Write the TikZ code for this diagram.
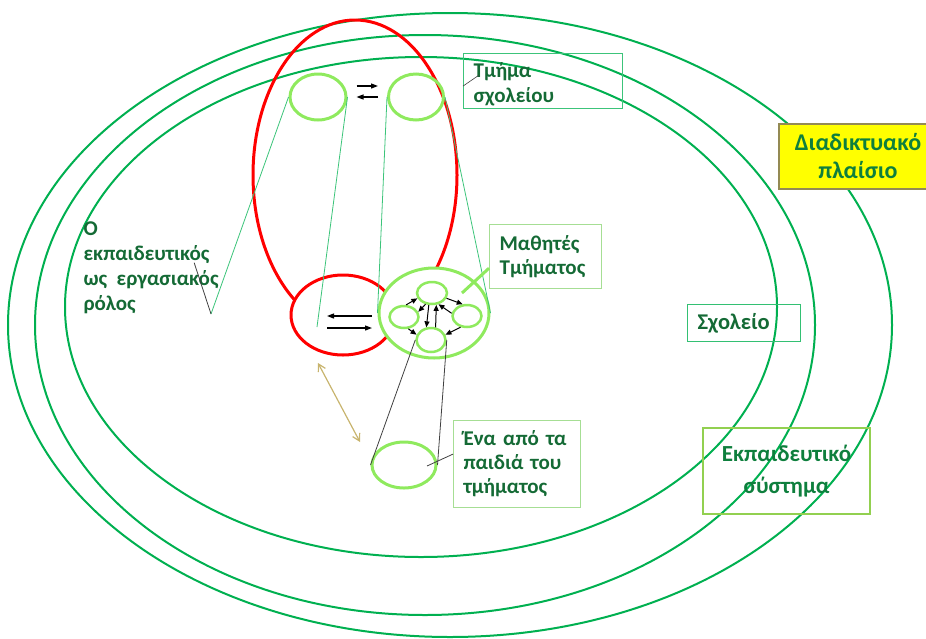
\documentclass[tikz,border=0pt]{standalone}
\usepackage{fontspec}
\setmainfont{Carlito}
\usetikzlibrary{arrows.meta, shapes.geometric}
\definecolor{ringGreen}{HTML}{00B050}
\definecolor{lightGreen}{HTML}{8FEA5E}
\definecolor{thinGreen}{HTML}{3CC47A}
\definecolor{paleGreen}{HTML}{A6DE94}
\definecolor{boxGreen}{HTML}{92D050}
\definecolor{textGreen}{HTML}{146A35}
\definecolor{roleRed}{HTML}{FF0000}
\definecolor{boxYellow}{HTML}{FFFF00}
\definecolor{boxOlive}{HTML}{948A54}
\definecolor{linkTan}{HTML}{C8B46E}
\definecolor{wireGrey}{HTML}{404040}

\begin{document}
\begin{tikzpicture}[x=1pt, y=-1pt,
    ring/.style={draw=ringGreen, line width=2pt},
    unit/.style={ellipse, draw=lightGreen, line width=3pt, inner sep=0pt},
    pupil/.style={ellipse, draw=lightGreen, line width=2.5pt, inner sep=0pt, minimum width=29pt, minimum height=22pt},
    lbox/.style={rectangle, anchor=north west, text=textGreen, align=left, inner xsep=10pt, line width=1.2pt,
      font=\bfseries\fontsize{21}{25}\selectfont},
    flow/.style={-{Triangle[length=7pt, width=5pt]}, line width=1.2pt},
    inflow/.style={-{Triangle[length=6pt, width=5pt]}, line width=1pt},
    zoomline/.style={thinGreen, line width=0.8pt}]
    \useasboundingbox (0,0) rectangle (926,638);
    % contexts
    \draw[ring] (450,325) ellipse [x radius=442, y radius=312];
    \draw[ring] (425,325) ellipse [x radius=390, y radius=290];
    \draw[ring] (421,307) ellipse [x radius=356, y radius=250];
    % role
    \draw[roleRed, line width=3pt] (355,175) ellipse [x radius=102, y radius=155];
    \node[ellipse, draw=roleRed, line width=3pt, fill=white, minimum width=104pt, minimum height=80pt] (role) at (343,315) {};
    % class and pupils
    \node[unit, fill=white, minimum width=110pt, minimum height=90pt] (class) at (434,313) {};
    \node[pupil, minimum width=30pt] (s1) at (432,293) {};
    \node[pupil] (s2) at (404,317) {};
    \node[pupil] (s3) at (467,316) {};
    \node[pupil, minimum height=24pt] (s4) at (431,340) {};
    \node[unit, minimum width=56pt, minimum height=46pt] (dA) at (318,97) {};
    \node[unit, minimum width=55pt, minimum height=46pt] (dB) at (416,97) {};
    \node[unit, minimum width=64pt, minimum height=46pt] (kid) at (404,465) {};
    \coordinate (teach) at (211,314);
    \coordinate (roleIn) at (317,327);

    \draw[zoomline] (dA.west) -- (teach);
    \draw[zoomline] (dA.east) -- (roleIn);
    \draw[zoomline] (dB.west) -- (class.west);
    \draw[zoomline] (dB.east) -- (class.east);

    \draw[flow] ([shift={(9,-11)}]dA.east) -- ([shift={(-9,-11)}]dB.west);
    \draw[flow] ([shift={(-9,0)}]dB.west) -- ([shift={(9,0)}]dA.east);
    \draw[flow] ([shift={(29,1)}]role.center) -- ([shift={(-16,1)}]role.center);
    \draw[flow] ([shift={(-16,13)}]role.center) -- ([shift={(29,13)}]role.center);

    \draw[inflow] (s2.80) -- (s1.200);
    \draw[inflow] (s1.-20) -- (s3.110);
    \draw[inflow] (s3.170) -- (s1.-60);
    \draw[inflow] (s4.70) -- (s1.-70);
    \draw[inflow] (s1.-120) -- (s2.20);
    \draw[inflow] (s1.-105) -- (s4.110);
    \draw[inflow] (s2.-70) -- (s4.160);
    \draw[inflow] (s3.-120) -- (s4.20);

    \draw[wireGrey, line width=0.8pt] (s4.west) -- (kid.west);
    \draw[wireGrey, line width=0.8pt] (s4.east) -- (kid.east);
    \draw[{Straight Barb[length=7pt, width=8pt]}-{Straight Barb[length=7pt, width=8pt]}, linkTan, line width=1.2pt]
      ([shift={(-25,48)}]role.center) -- ([shift={(-44,-23)}]kid.center);

    % labels
    \node[lbox, inner sep=0pt] (teacher) at (83,221) {Ο\\εκπαιδευτικός\\ως~~εργασιακός\\ρόλος};
    \node[lbox, draw=thinGreen, text width=139pt, minimum height=55pt, text height=15pt, text depth=22pt] (sect) at (463,53) {Τμήμα\\σχολείου};
    \node[lbox, draw=paleGreen, text width=92pt, minimum height=64pt, font=\bfseries\fontsize{21}{24}\selectfont] (pupils) at (489,224) {Μαθητές\\Τμήματος};
    \node[lbox, draw=ringGreen!80, text width=93pt, minimum height=37pt, font=\bfseries\fontsize{22.5}{25}\selectfont] (school) at (687,304) {Σχολείο};
    \node[lbox, draw=boxGreen, line width=2pt, align=center, text width=147pt, minimum height=86pt,
      text=textGreen!70!ringGreen, font=\bfseries\fontsize{23}{32}\selectfont] (system) at (702,427) {Εκπαιδευτικό\\σύστημα};
    \node[lbox, draw=boxOlive, fill=boxYellow, line width=2pt, align=center, text width=138pt, minimum height=65pt,
      text=textGreen!70!ringGreen, font=\bfseries\fontsize{24}{28}\selectfont] (net) at (778,123) {Διαδικτυακό\\πλαίσιο};
    \node[lbox, draw=paleGreen, text width=107pt, minimum height=87pt, font=\bfseries\fontsize{21}{24}\selectfont] (kidbox) at (453,420) {Ένα από τα\\παιδιά του\\τμήματος};

    \draw[wireGrey, line width=0.8pt] ([shift={(-25,-5)}]teacher.east) -- (teach);
    \draw[wireGrey, line width=0.6pt] ([shift={(0,5)}]sect.west) -- ([shift={(16,-6)}]sect.west);
    \draw[wireGrey, line width=0.8pt] ([shift={(0,-10)}]kidbox.west) -- ([shift={(23,1)}]kid.center);
    \draw[lightGreen, line width=3pt] ([shift={(0,-21)}]pupils.south west) -- ([shift={(28,-20)}]class.center);
\end{tikzpicture}
\end{document}
